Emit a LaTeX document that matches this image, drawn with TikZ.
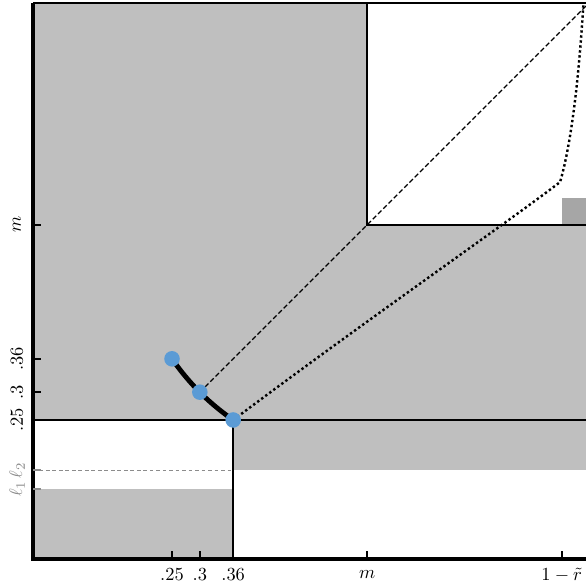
\documentclass[tikz,border=0pt]{standalone}
\usetikzlibrary{calc}
\definecolor{RegionGray}{RGB}{191,191,191}
\definecolor{RegionDark}{RGB}{166,166,166}
\definecolor{PointBlue}{RGB}{91,155,213}
\definecolor{LevelGray}{RGB}{140,140,140}

\begin{document}
\begin{tikzpicture}[x=300bp,y=300bp,line join=miter]
  \path[use as bounding box] (-0.0594,-0.0504) rectangle (0.9946,1.0054);
  \fill[white] (-0.0594,-0.0504) rectangle (0.9946,1.0054);

  \tikzset{
    axisline/.style={line width=1.7bp,draw=black},
    borderline/.style={line width=1.1bp,draw=black},
    splitline/.style={line width=1bp,draw=black},
    tickline/.style={line width=1.1bp,draw=black},
    leveltick/.style={line width=1.1bp,draw=LevelGray},
    ticklabel/.style={inner sep=0pt,text=black,
      font=\fontsize{9.5bp}{9.5bp}\selectfont},
    levellabel/.style={inner sep=0pt,text=LevelGray,rotate=90,
      font=\fontsize{9.5bp}{9.5bp}\selectfont},
    dotpoint/.style={circle,fill=PointBlue,inner sep=0pt,minimum size=8.4bp},
  }
  \def\mval{0.601}
  \def\rval{0.951}

  % ==================== REGIONS ====================
  \fill[RegionGray] (0,0.25) rectangle (\mval,1);
  \fill[RegionGray] (0.36,0.16) rectangle (1,\mval);
  \fill[RegionGray] (0,0) rectangle (0.36,0.126);
  \fill[RegionDark] (\rval,\mval) rectangle (1,0.649);

  % Split lines
  \draw[splitline] (0,0.25) -- (1,0.25);
  \draw[splitline] (0.36,0) -- (0.36,0.25);
  \draw[splitline] (\mval,1) -- (\mval,\mval) -- (1,\mval);
  \draw[line width=0.4bp,draw=LevelGray,dash pattern=on 2bp off 1.5bp] (0,0.16) -- (0.36,0.16);

  % ==================== AXES ====================
  \draw[borderline] (0,1) -- (1,1) -- (1,0);
  \draw[axisline] (0,1) -- (0,0) -- (1,0);

  % Ticks x
  \foreach \x/\lab/\nm in {0.25/.25/a,0.3/.3/b,0.36/.36/c,\mval/m/d,\rval/1-\tilde r/e} {
    \draw[tickline] (\x,0) -- ++(0,0.0144);
    \node[ticklabel] (xl\nm) at (\x,-0.0288) {$\lab$};
  }
  % Ticks y
  \foreach \y/\lab/\nm in {0.25/.25/a,0.3/.3/b,0.36/.36/c,\mval/m/d} {
    \draw[tickline] (0,\y) -- ++(0.0144,0);
    \node[ticklabel,rotate=90] (yl\nm) at (-0.0288,\y) {$\lab$};
  }
  \foreach \y/\lab/\nm in {0.126/\ell_1/f,0.16/\ell_2/g} {
    \draw[leveltick] (0,\y) -- ++(0.0144,0);
    \node[levellabel] (yl\nm) at (-0.0288,\y) {$\lab$};
  }

  % ==================== PATHS ====================
  \coordinate (P1) at (0.25,0.36);
  \coordinate (P2) at (0.3,0.3);
  \coordinate (P3) at (0.36,0.25);
  \coordinate (K) at (0.948,0.678);
  \coordinate (TR) at (1,1);
  \coordinate (TD) at (0.99,1);

  \draw[line width=0.7bp,dash pattern=on 2.6bp off 1.4bp] (P2) -- (TR);
  \draw[line width=1.3bp,dash pattern=on 1.3bp off 1.4bp]
    (P3) .. controls (0.6,0.43) and (0.86,0.61) .. (K)
         .. controls (0.972,0.76) and (0.984,0.9) .. (TD);

  % Level curve through the three points
  \draw[line width=2.6bp,line cap=round] plot[domain=0.25:0.36,samples=30,smooth] (\x,{0.09/\x});

  \node[dotpoint] (d1) at (P1) {};
  \node[dotpoint] (d2) at (P2) {};
  \node[dotpoint] (d3) at (P3) {};

\end{tikzpicture}
\end{document}
